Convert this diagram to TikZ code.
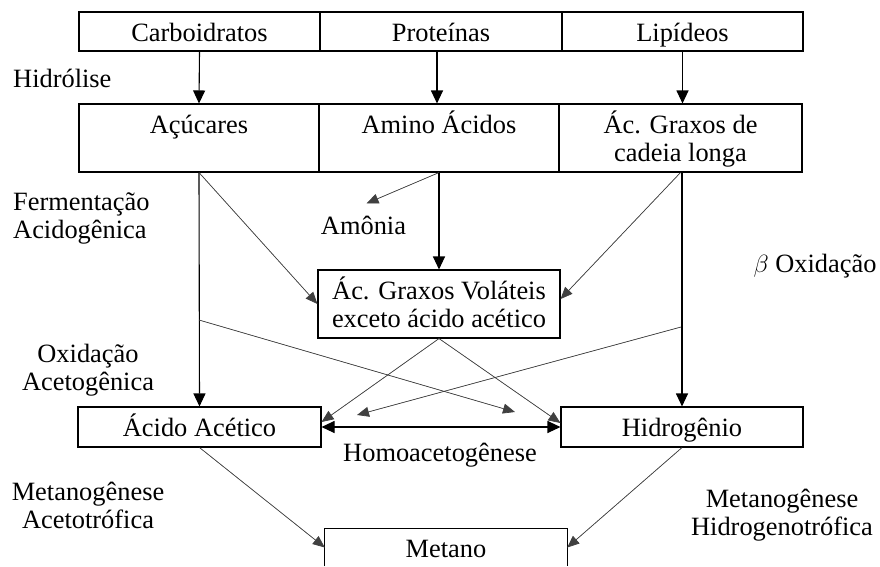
\documentclass[tikz,border=0pt]{standalone}
\usepackage{fontspec}
\setmainfont{Liberation Serif}
\usetikzlibrary{arrows.meta}
\newcommand\mytopstrut{\rule{0pt}{27pt}}
\begin{document}
\begin{tikzpicture}[x=1pt,y=-1pt,
  font=\fontsize{26.4}{28}\selectfont,
  box/.style={draw, line width=1.1pt, inner sep=0pt, align=center},
  onebox/.style={box, text height=19pt, text depth=0pt},
  mainarr/.style={-{Triangle[length=13pt,width=12pt]}, line width=1.1pt},
  thinarr/.style={-{Triangle[length=12pt,width=10pt]}, line width=0.7pt, draw=black!75, fill=black},
  lbl/.style={inner sep=0pt, align=center}]
\useasboundingbox (0,0) rectangle (880,566);
% top row
\node[onebox, minimum width=241pt, minimum height=39pt] (carb) at (199.5,31.5) {Carboidratos};
\node[onebox, minimum width=242pt, minimum height=39pt] (prot) at (441,31.5) {Proteínas};
\node[onebox, minimum width=241pt, minimum height=39pt] (lip) at (682.5,31.5) {Lipídeos};
% second row
\node[box, minimum width=240pt, minimum height=68pt] (acu) at (199,138) {\mytopstrut Açúcares\\\strut};
\node[box, minimum width=240pt, minimum height=68pt] (amino) at (439,138) {\mytopstrut Amino Ácidos\\\strut};
\node[box, minimum width=243pt, minimum height=68pt] (graxos) at (680.5,138) {\mytopstrut Ác. Graxos de\\\strut cadeia longa};
% VFA
\node[box, minimum width=242pt, minimum height=68pt] (vfa) at (439,304) {\mytopstrut Ác. Graxos Voláteis\\\strut exceto ácido acético};
% third row
\node[onebox, minimum width=243pt, minimum height=40pt] (acido) at (199.5,427) {Ácido Acético};
\node[onebox, minimum width=242pt, minimum height=40pt] (hidro) at (682,427) {Hidrogênio};
% Metano (box open at the bottom edge of the picture)
\node[lbl, text height=19pt, text depth=0pt, minimum width=242pt, minimum height=37pt] (metano) at (446,547.5) {Metano};
\draw[line width=1.1pt] (metano.south west) -- (metano.north west) -- (metano.north east) -- (metano.south east);
% labels
\node[lbl, anchor=base west] (hidrolise) at (13,87) {Hidrólise};
\node[lbl, align=left, anchor=west] (ferm) at (13,218.4) {\strut Fermentação\\\strut Acidogênica};
\node[lbl, anchor=base] (amonia) at (363.5,234) {Amônia};
\node[lbl, anchor=base] (beta) at (815,272) {$\beta$ Oxidação};
\node[lbl] (oxac) at (88,370.4) {\strut Oxidação\\\strut Acetogênica};
\node[lbl, anchor=base] (homo) at (440,461) {Homoacetogênese};
\node[lbl] (metac) at (88,508.4) {\strut Metanogênese\\\strut Acetotrófica};
\node[lbl] (methid) at (782,515.4) {\strut Metanogênese\\\strut Hidrogenotrófica};
% coordinates
\coordinate (j1) at (199,320);
\coordinate (j2) at (681,327);
\coordinate (e1) at (515,412);
\coordinate (e2) at (357,415);
% hydrolysis
\draw[mainarr] (carb.south) -- (acu.north);
\draw[mainarr] ([xshift=-4pt]prot.south) -- ([xshift=-2pt]amino.north);
\draw[mainarr] (lip.south) -- ([xshift=2pt]graxos.north);
% acidogenesis
\draw[mainarr] (acu.south) -- (acido.north);
\draw[thinarr] (acu.south) -- (vfa.west);
\draw[thinarr] (amino.south) -- ([xshift=3pt,yshift=12pt]amonia.north);
\draw[mainarr] (amino.south) -- (vfa.north);
\draw[thinarr] (graxos.south) -- ([yshift=5pt]vfa.east);
\draw[mainarr] ([xshift=1.5pt]graxos.south) -- (hidro.north);
% acetogenesis
\draw[thinarr] (j1) -- (e1);
\draw[thinarr] (j2) -- (e2);
\draw[thinarr] (vfa.south) -- ([yshift=5pt]acido.east);
\draw[thinarr] (vfa.south) -- ([yshift=4pt]hidro.west);
\draw[{Triangle[length=13pt,width=12pt]}-{Triangle[length=13pt,width=12pt]}, line width=1.1pt] (acido.east) -- (hidro.west);
% methanogenesis
\draw[thinarr] (acido.south) -- (metano.west);
\draw[thinarr] (hidro.south) -- (metano.east);
\end{tikzpicture}
\end{document}
